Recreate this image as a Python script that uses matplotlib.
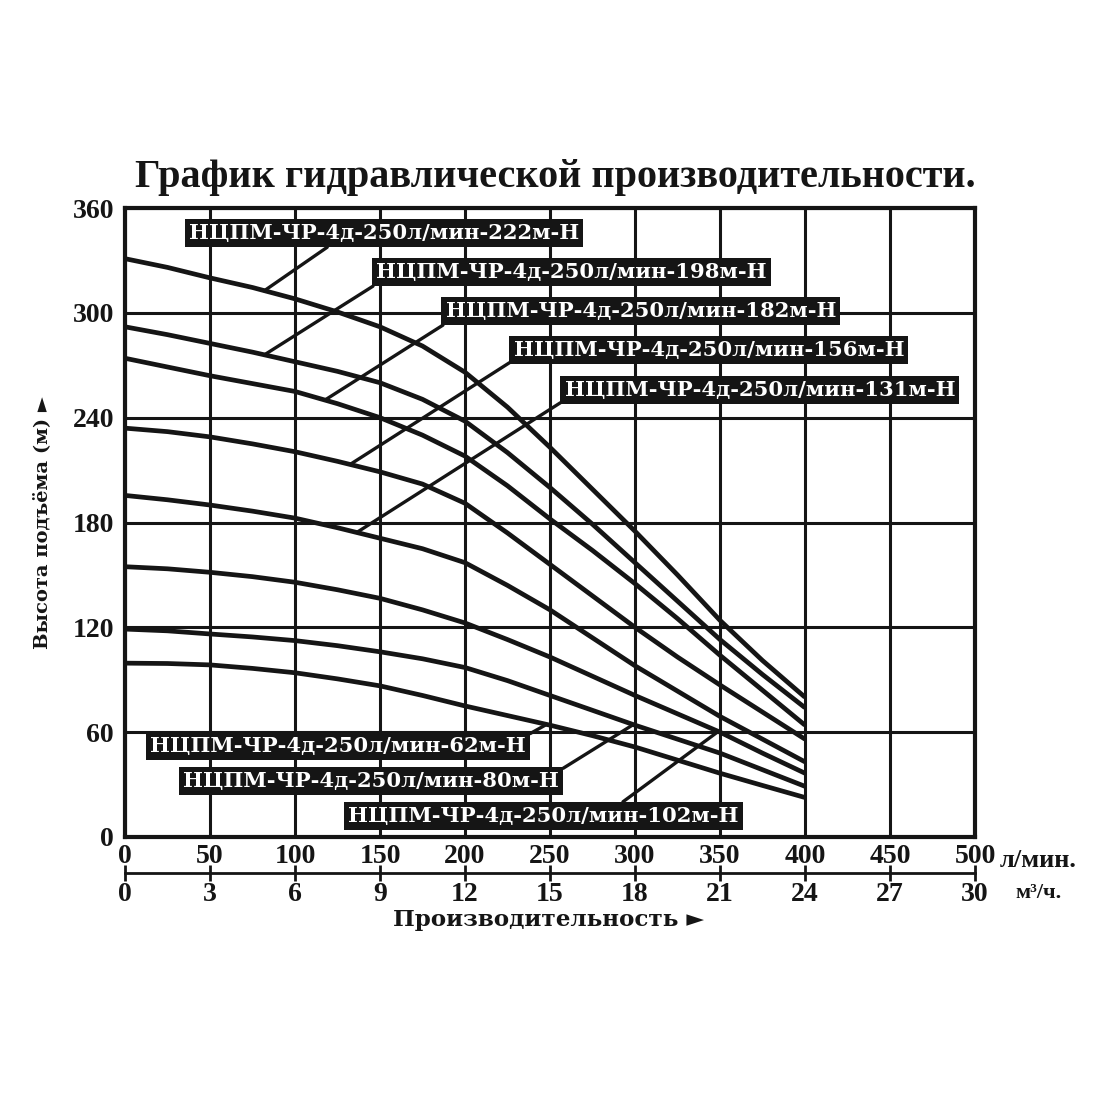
import numpy as np
import matplotlib.pyplot as plt

# Flow (l/min) and head (m)
flow = [0, 25, 50, 75, 100, 125, 150, 175, 200, 225, 250, 275, 300, 325, 350, 375, 400]

head_222 = [331, 326, 320, 314.5, 308, 300.5, 292, 281, 266, 246, 223, 199, 175, 150, 124, 101, 80]
head_198 = [292, 287.5, 282.5, 277.5, 272, 266.5, 260, 250.5, 238, 220, 200, 179, 157, 135, 113, 93, 74]
head_182 = [274, 269, 264, 259.5, 255, 248, 240, 230, 218, 201, 182, 164, 145, 125, 104, 84, 64]
head_156 = [234, 232, 229, 225, 220.5, 215, 209, 202, 191, 174, 156, 138, 120, 103, 87, 71.5, 56]
head_131 = [195.5, 193, 190, 186.5, 182.5, 177, 171, 165, 157, 144, 130, 114, 98, 83.5, 69, 56, 43]
head_102 = [154.7, 153.5, 151.5, 149, 145.8, 141.5, 136.6, 130, 122.5, 113, 103, 92, 81, 70.5, 60, 48, 36.5]
head_80 = [119, 118, 116.2, 114.5, 112.4, 109.5, 106, 102, 97, 89.5, 81, 72.5, 64, 56, 48, 38.5, 29]
head_62 = [99.5, 99.3, 98.5, 96.5, 94, 90.5, 86.5, 81, 75, 69.5, 64, 58, 51.5, 44, 36.5, 29.5, 22.6]

models = ['222', '198', '182', '156', '131', '102', '80', '62']
heads = [head_222, head_198, head_182, head_156, head_131, head_102, head_80, head_62]

x_ticks = list(range(0, 501, 50))
y_ticks = list(range(0, 361, 60))
m3_ticks = list(range(0, 31, 3))

# label box centre (data coords), leader start on box, leader end flow on curve
label_layout = {
    '222': ((152.4, 345.7), (0.37, 0), 82),
    '198': ((262.4, 323.4), (0.01, 0), 82),
    '182': ((303.5, 301.1), (0.01, 0), 117.6),
    '156': ((343.5, 278.7), (0.0, 0), 132.4),
    '131': ((373.5, 255.8), (0.0, 0), 136.3),
    '102': ((245.9, 12.0), (0.69, 1), 349),
    '80': ((144.7, 32.1), (1, 1), 299),
    '62': ((125.3, 52.1), (1, 1), 248),
}

ink = '#151515'
wide = ['DejaVu Serif']
plt.rcParams['font.family'] = ['Liberation Serif', 'DejaVu Serif']
plt.rcParams['font.weight'] = 'bold'

fig = plt.figure(figsize=(11, 11), dpi=100)
ax = fig.add_axes([125 / 1100, 263 / 1100, 850 / 1100, 629 / 1100])
ax.set_xlim(0, 500)
ax.set_ylim(0, 360)
ax.set_xticks(x_ticks)
ax.set_yticks(y_ticks)
ax.grid(True, color=ink, lw=2.2)
ax.set_axisbelow(True)
ax.tick_params(length=0, labelsize=20, colors=ink)
ax.tick_params(axis='y', pad=8)
ax.tick_params(axis='x', pad=5)
for sp in ax.spines.values():
    sp.set_linewidth(3)
    sp.set_color(ink)

for h in heads:
    ax.plot(flow, h, color=ink, lw=3.4, solid_capstyle='butt', zorder=3)

for m, h in zip(models, heads):
    (cx, cy), rel, fx = label_layout[m]
    fy = float(np.interp(fx, flow, h))
    ax.annotate('НЦПМ-ЧР-4д-250л/мин-' + m + 'м-Н', xy=(fx, fy), xytext=(cx, cy),
                ha='center', va='center', color='white', fontsize=15.2, family=wide,
                bbox=dict(boxstyle='square,pad=0.2', fc=ink, ec='none'),
                arrowprops=dict(arrowstyle='-', color=ink, lw=2.4, relpos=rel,
                                shrinkA=0, shrinkB=0),
                zorder=5)

# second flow scale in m3/h
sec = ax.secondary_xaxis(-0.0572, functions=(lambda q: q * 0.06, lambda v: v / 0.06))
sec.set_xticks(m3_ticks)
sec.tick_params(direction='inout', length=11, width=2, labelsize=20, pad=1, colors=ink)
sec.spines['bottom'].set_linewidth(2)
sec.spines['bottom'].set_color(ink)

ax.text(1.029, -0.037, 'л/мин.', transform=ax.transAxes, fontsize=19,
        ha='left', va='center', color=ink)
ax.text(1.047, -0.089, 'м³/ч.', transform=ax.transAxes, fontsize=16,
        ha='left', va='center', color=ink)
ax.text(0.498, -0.132, 'Производительность ►', transform=ax.transAxes, fontsize=16.6,
        family=wide, ha='center', va='center', color=ink)
ax.text(-0.0976, 0.5, 'Высота подъёма (м) ►', transform=ax.transAxes, fontsize=14,
        family=wide, rotation=90, ha='center', va='center', color=ink)

fig.text(0.505, 1 - 177 / 1100, 'График гидравлической производительности.',
         fontsize=29, ha='center', va='center', color=ink)

fig.savefig('out.png', dpi=100, facecolor='white')
